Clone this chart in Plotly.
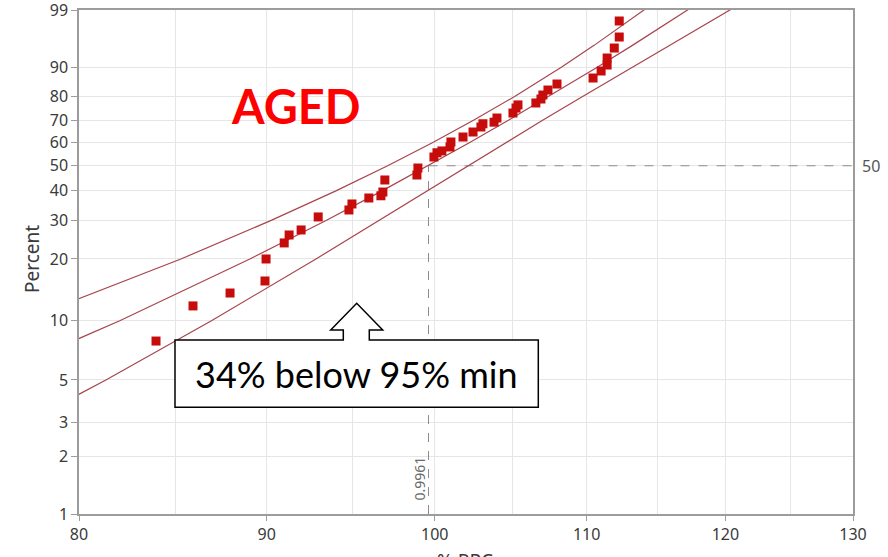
import math
import plotly.graph_objects as go

# ---------------- data ----------------
PCT_TICKS = [1, 2, 3, 5, 10, 20, 30, 40, 50, 60, 70, 80, 90, 99]
X_TICKS = [80, 90, 100, 110, 120, 130]
X_MINOR = [85, 95, 105, 115, 125]

# observed samples: % RPC and plotting percent
RPC = [83.96, 85.93, 87.95, 89.90, 89.96, 90.99, 91.27, 91.96, 92.95, 94.76,
       94.94, 95.95, 96.68, 96.80, 96.92, 98.89, 98.95, 99.95, 100.14, 100.45,
       100.96, 101.02, 101.79, 102.43, 102.94, 103.07, 103.79, 103.98, 105.03, 105.23,
       105.36, 106.55, 106.89, 107.02, 107.36, 107.97, 110.44, 111.00, 111.42, 111.42,
       111.92, 112.27, 112.27]
PCT = [7.9, 11.85, 13.72, 15.7, 20.0, 23.76, 25.83, 27.21, 31.07, 33.3,
       35.31, 37.4, 38.2, 39.57, 44.18, 46.18, 49.06, 53.75, 55.6, 56.4,
       58.14, 60.36, 62.59, 64.83, 67.06, 68.5, 69.2, 71.02, 73.19, 75.31,
       76.6, 77.4, 79.0, 80.57, 82.46, 84.63, 86.66, 88.85, 90.55, 92.34,
       94.5, 96.37, 98.22]

# fitted line and confidence bounds: % RPC at given percent levels
LINE_PCT = [2, 3, 5, 10, 20, 30, 40, 50, 60, 70, 80, 90, 95, 99, 99.5]
FIT_MID = [66.71, 70.53, 75.38, 82.07, 89.05, 93.41, 96.75, 99.59, 102.19, 104.73,
           107.43, 110.76, 113.20, 117.20, 118.51]
FIT_UPPER = [59.22, 63.71, 69.40, 77.21, 85.28, 90.25, 93.99, 97.09, 99.85, 102.46,
             105.14, 108.29, 110.51, 114.05, 115.19]
FIT_LOWER = [74.20, 77.35, 81.36, 86.93, 92.82, 96.57, 99.51, 102.09, 104.53, 107.00,
             109.72, 113.23, 115.89, 120.35, 121.83]

MEDIAN_X = 99.61
MEDIAN_LABEL = "0.9961"
REF_PCT = 50
TITLE_TEXT = "AGED"
CALLOUT_TEXT = "34% below 95% min"
X_TITLE = "% RPC"
Y_TITLE = "Percent"


def weib(p):
    """Weibull probability-paper ordinate for a percent value."""
    return math.log(-math.log(1.0 - p / 100.0))


# ---------------- geometry helpers for decorations ----------------
W, H = 888, 557
ML, MR, MT, MB = 79, 35, 10, 43
PW, PH = W - ML - MR, H - MT - MB


def PX(px):
    return (px - ML) / PW


def PY(py):
    return (H - MB - py) / PH


LINE_COL = "#A8454D"
GRID_COL = "#E6E6E6"
AXIS_COL = "#9C9C9C"
TXT_COL = "#3A3A3A"
FONT = "Noto Sans"

fig = go.Figure()

# reference dashed lines at the median
fig.add_trace(go.Scatter(x=[MEDIAN_X, MEDIAN_X], y=[weib(1), weib(REF_PCT)], mode="lines",
                         line=dict(color="#8C8C8C", width=1, dash="dash"), hoverinfo="skip"))
fig.add_trace(go.Scatter(x=[MEDIAN_X, 130], y=[weib(REF_PCT), weib(REF_PCT)], mode="lines",
                         line=dict(color="#8C8C8C", width=1, dash="dash"), hoverinfo="skip"))

# fit and confidence bounds
for xs in (FIT_UPPER, FIT_MID, FIT_LOWER):
    fig.add_trace(go.Scatter(x=xs, y=[weib(p) for p in LINE_PCT], mode="lines",
                             line=dict(color=LINE_COL, width=1.2), hoverinfo="skip"))

# data points
fig.add_trace(go.Scatter(x=RPC, y=[weib(p) for p in PCT], mode="markers",
                         marker=dict(symbol="square", size=9, color="#C70C0C",
                                     line=dict(width=0))))

# callout box with up-arrow (single outline)
pts = [(175, 407.3), (175, 340), (343.3, 340), (343.3, 330), (330.7, 330), (356.7, 303.3),
       (382.7, 330), (369.3, 330), (369.3, 340), (538.3, 340), (538.3, 407.3)]
path = "M " + " L ".join(f"{PX(a):.5f},{PY(b):.5f}" for a, b in pts) + " Z"
fig.add_shape(type="path", path=path, xref="paper", yref="paper",
              fillcolor="white", line=dict(color="black", width=1.5), layer="above")

annotations = [
    dict(text=CALLOUT_TEXT, x=PX(356.5), y=PY(374), xref="paper", yref="paper",
         showarrow=False, xanchor="center", yanchor="middle",
         font=dict(family="Lato", size=36, color="black")),
    dict(text=TITLE_TEXT, x=PX(296), y=PY(106), xref="paper", yref="paper",
         showarrow=False, xanchor="center", yanchor="middle",
         font=dict(family="Lato", size=47, color="#FF0000", weight="bold")),
    dict(text=MEDIAN_LABEL, x=math.log10(MEDIAN_X), y=PY(479), xref="x", yref="paper",
         showarrow=False, textangle=-90, xanchor="center", yanchor="middle", xshift=-10,
         font=dict(family=FONT, size=14, color="#6A6A6A")),
    dict(text=str(REF_PCT), x=1, y=weib(REF_PCT), xref="paper", yref="y",
         showarrow=False, xanchor="left", yanchor="middle", xshift=7,
         font=dict(family=FONT, size=16, color="#555555")),
    dict(text=Y_TITLE, x=PX(32), y=PY(259), xref="paper", yref="paper",
         showarrow=False, textangle=-90, xanchor="center", yanchor="middle",
         font=dict(family=FONT, size=19, color=TXT_COL)),
    dict(text=X_TITLE, x=PX(465), y=PY(546), xref="paper", yref="paper",
         showarrow=False, xanchor="center", yanchor="top",
         font=dict(family=FONT, size=19, color=TXT_COL)),
]

fig.update_layout(
    width=W, height=H,
    margin=dict(l=ML, r=MR, t=MT, b=MB, pad=0, autoexpand=False),
    paper_bgcolor="white", plot_bgcolor="white",
    showlegend=False,
    annotations=annotations,
    xaxis=dict(type="log", range=[math.log10(80), math.log10(130)], automargin=False,
               tickmode="array", tickvals=X_TICKS, ticktext=[str(v) for v in X_TICKS],
               ticklabeloverflow="allow",
               showgrid=True, gridcolor=GRID_COL, gridwidth=1,
               minor=dict(tickmode="array", tickvals=X_MINOR, showgrid=True,
                          gridcolor=GRID_COL, gridwidth=1, ticks=""),
               showline=True, linecolor=AXIS_COL, linewidth=1.5, mirror=True,
               ticks="outside", ticklen=5, tickcolor=AXIS_COL, tickwidth=1,
               zeroline=False,
               tickfont=dict(family=FONT, size=16, color=TXT_COL)),
    yaxis=dict(range=[weib(1), weib(99)], automargin=False,
               tickmode="array", tickvals=[weib(p) for p in PCT_TICKS],
               ticktext=[str(p) for p in PCT_TICKS],
               ticklabeloverflow="allow",
               showgrid=True, gridcolor=GRID_COL, gridwidth=1,
               showline=True, linecolor=AXIS_COL, linewidth=1.5, mirror=True,
               ticks="outside", ticklen=6, tickcolor=AXIS_COL, tickwidth=1,
               zeroline=False,
               tickfont=dict(family=FONT, size=16, color=TXT_COL)),
)

fig.write_html("out.html", config={"displayModeBar": False})
